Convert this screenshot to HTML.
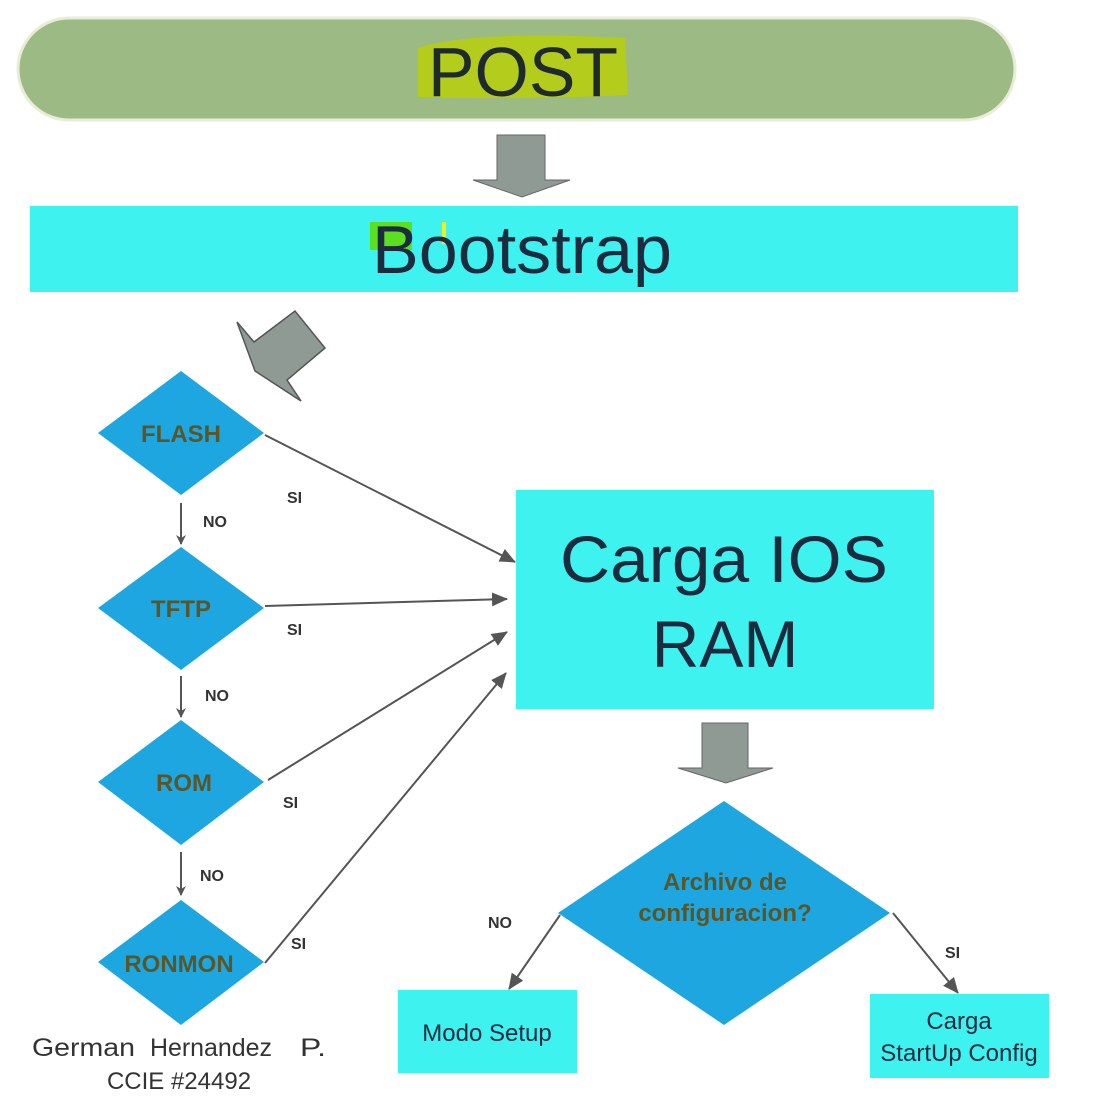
<!DOCTYPE html>
<html><head><meta charset="utf-8"><style>
html,body{margin:0;padding:0;background:#fff;}
svg{display:block;}
text{font-family:"Liberation Sans",Arial,sans-serif;}
</style></head><body>
<svg width="1106" height="1108" viewBox="0 0 1106 1108" xmlns="http://www.w3.org/2000/svg">
<defs>
<marker id="ah" markerWidth="10" markerHeight="10" refX="9" refY="5" orient="auto" markerUnits="userSpaceOnUse"><path d="M0,0 L10,5 L0,10 L3,5 z" fill="#555"/></marker>
<marker id="ah2" markerWidth="16" markerHeight="14" refX="15" refY="7" orient="auto" markerUnits="userSpaceOnUse"><path d="M0,0 L16,7 L0,14 z" fill="#555"/></marker>
</defs>
<rect x="18" y="18" width="997" height="102" rx="51" fill="#9cba84" stroke="#e8ecd8" stroke-width="3"/>
<path d="M418,48 Q470,30 625,38 L628,95 Q520,100 418,97 Z" fill="#b4cc1c"/>
<text x="428" y="96" font-size="70" textLength="190" lengthAdjust="spacingAndGlyphs" fill="#1e2a2e">POST</text>
<polygon points="497,135 545,135 545,180 570,180 522,197 473,180 497,180" fill="#8f9a95" stroke="#666" stroke-width="1"/>
<rect x="30" y="206" width="988" height="86" fill="#3ef2f0"/>
<rect x="370" y="222" width="42" height="28" fill="#5ae020"/>
<rect x="442" y="222" width="4" height="22" fill="#f0f020"/>
<text x="372" y="273" font-size="68" textLength="300" lengthAdjust="spacingAndGlyphs" fill="#1e2a3e">Bootstrap</text>
<polygon points="237,322 254,342 295,311 325,348 287,380 301,401 255,371" fill="#8f9a95" stroke="#555" stroke-width="1.5"/>
<g fill="#1ea6e0">
<polygon points="181,371 264,433 181,495 98,433"/>
<polygon points="181,547 264,608 181,670 98,608"/>
<polygon points="181,720 264,782 181,845 98,782"/>
<polygon points="181,900 264,962 181,1025 98,962"/>
</g>
<g font-size="24" font-weight="bold" fill="#5a5628" text-anchor="middle">
<text x="181" y="442">FLASH</text>
<text x="181" y="617">TFTP</text>
<text x="184" y="791">ROM</text>
<text x="179" y="972">RONMON</text>
</g>
<g stroke="#555" stroke-width="2" marker-end="url(#ah)">
<line x1="181" y1="503" x2="181" y2="544"/>
<line x1="181" y1="676" x2="181" y2="717"/>
<line x1="181" y1="852" x2="181" y2="895"/>
</g>
<g font-size="16" font-weight="bold" fill="#333">
<text x="203" y="527">NO</text>
<text x="205" y="701">NO</text>
<text x="200" y="881">NO</text>
<text x="287" y="503">SI</text>
<text x="287" y="635">SI</text>
<text x="283" y="808">SI</text>
<text x="291" y="949">SI</text>
</g>
<g stroke="#555" stroke-width="2" marker-end="url(#ah2)">
<line x1="265" y1="435" x2="515" y2="562"/>
<line x1="265" y1="606" x2="507" y2="599"/>
<line x1="268" y1="780" x2="507" y2="632"/>
<line x1="265" y1="963" x2="506" y2="673"/>
</g>
<rect x="516" y="490" width="418" height="219" fill="#3ef2f0"/>
<text x="560" y="582" font-size="66" textLength="328" lengthAdjust="spacingAndGlyphs" fill="#1e2a3e">Carga IOS</text>
<text x="725" y="667" font-size="66" text-anchor="middle" fill="#1e2a3e">RAM</text>
<polygon points="702,723 748,723 748,768 773,768 726,783 678,768 702,768" fill="#8f9a95" stroke="#666" stroke-width="1"/>
<polygon points="724,801 890,913 724,1025 558,913" fill="#1ea6e0"/>
<text x="725" y="890" font-size="24" font-weight="bold" fill="#5a5628" text-anchor="middle">Archivo de</text>
<text x="725" y="921" font-size="24" font-weight="bold" fill="#5a5628" text-anchor="middle">configuracion?</text>
<g stroke="#555" stroke-width="2" marker-end="url(#ah2)">
<line x1="560" y1="915" x2="509" y2="989"/>
<line x1="893" y1="913" x2="958" y2="993"/>
</g>
<text x="488" y="928" font-size="16" font-weight="bold" fill="#333">NO</text>
<text x="945" y="958" font-size="16" font-weight="bold" fill="#333">SI</text>
<rect x="398" y="990" width="179" height="83" fill="#3ef2f0"/>
<text x="487" y="1041" font-size="24" text-anchor="middle" fill="#1e2a3e">Modo Setup</text>
<rect x="870" y="994" width="179" height="84" fill="#3ef2f0"/>
<text x="959" y="1029" font-size="24" text-anchor="middle" fill="#1e2a3e">Carga</text>
<text x="959" y="1061" font-size="24" text-anchor="middle" fill="#1e2a3e">StartUp Config</text>
<text x="32" y="1056" font-size="25" textLength="103" lengthAdjust="spacingAndGlyphs" fill="#333">German</text>
<text x="150" y="1056" font-size="25" textLength="122" lengthAdjust="spacingAndGlyphs" fill="#333">Hernandez</text>
<text x="300" y="1056" font-size="25" textLength="26" lengthAdjust="spacingAndGlyphs" fill="#333">P.</text>
<text x="179" y="1089" font-size="24" text-anchor="middle" fill="#333">CCIE #24492</text>
</svg>
</body></html>
